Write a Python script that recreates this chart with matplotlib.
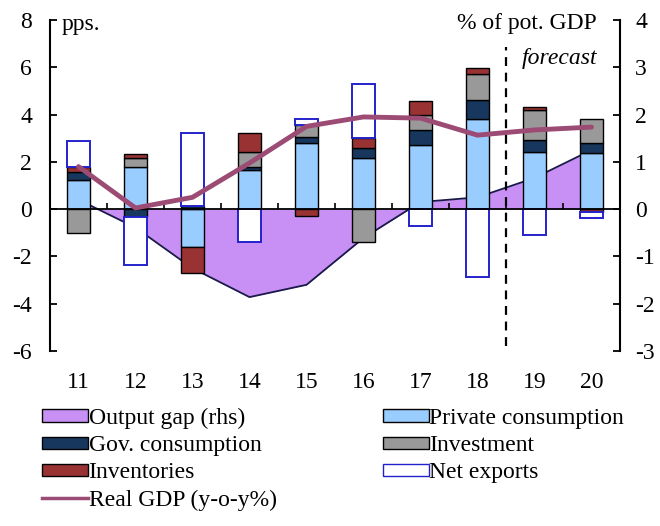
import numpy as np
import matplotlib
matplotlib.use("Agg")
import matplotlib.pyplot as plt
from matplotlib.patches import Patch
from matplotlib.lines import Line2D

plt.rcParams["font.family"] = ["Liberation Serif", "DejaVu Serif"]
plt.rcParams["axes.unicode_minus"] = False

# data (contributions in pps., output gap in % of potential GDP)
years = [11, 12, 13, 14, 15, 16, 17, 18, 19, 20]
year_labels = ["11", "12", "13", "14", "15", "16", "17", "18", "19", "20"]
private_cons = [1.25, 1.8, -1.6, 1.65, 2.8, 2.15, 2.7, 3.8, 2.43, 2.36]
gov_cons = [0.3, -0.35, 0.15, 0.12, 0.25, 0.45, 0.65, 0.82, 0.5, 0.42]
investment = [-1.0, 0.35, 0.0, 0.66, 0.5, -1.38, 0.63, 1.1, 1.25, 1.02]
inventories = [0.25, 0.2, -1.1, 0.77, -0.3, 0.4, 0.6, 0.24, 0.14, -0.1]
net_exports = [1.1, -2.0, 3.05, -1.38, 0.25, 2.3, -0.73, -2.87, -1.1, -0.27]
real_gdp = [1.8, 0.05, 0.5, 1.95, 3.5, 3.9, 3.85, 3.13, 3.35, 3.47]
output_gap = [0.2, -0.39, -1.25, -1.86, -1.6, -0.61, 0.15, 0.25, 0.66, 1.25]
forecast_start = 18.5

components = [
    ("Private consumption", private_cons, "#99CCFF", "black"),
    ("Gov. consumption", gov_cons, "#17375E", "black"),
    ("Investment", investment, "#999999", "black"),
    ("Inventories", inventories, "#993333", "black"),
    ("Net exports", net_exports, "white", "#2222CC"),
]
gap_color = "#C890F5"
gdp_color = "#9B4B74"

fs = 17
fig = plt.figure(figsize=(6.6, 5.26), dpi=100)
ax = fig.add_axes([50 / 660, 1 - 351 / 526, 570 / 660, 331 / 526])
ax2 = ax.twinx()
ax.set_zorder(ax2.get_zorder() + 1)
ax.patch.set_visible(False)

x = np.array(years, dtype=float)

# output gap area on the right axis, behind the bars
gap = np.array(output_gap)
ax2.fill_between(x, gap, 0, color=gap_color, linewidth=0)
ax2.plot(x, gap, color="#1A1A4A", lw=1.3)
ax2.set_ylim(-3, 4)

# stacked bars: positives go up, negatives go down
pos_base = np.zeros(len(x))
neg_base = np.zeros(len(x))
for name, vals, fc, ec in components:
    v = np.array(vals)
    base = np.where(v >= 0, pos_base, neg_base)
    lw = 1.4 if name == "Net exports" else 1.0
    ax.bar(x, v, 0.4, bottom=base, color=fc, edgecolor=ec, linewidth=lw, zorder=3)
    pos_base += np.where(v >= 0, v, 0)
    neg_base += np.where(v < 0, v, 0)

ax.plot(x, real_gdp, color=gdp_color, lw=3.5, zorder=5, solid_capstyle="round")
ax.plot([forecast_start, forecast_start], [-5.8, 6.85], color="black", lw=1.6,
        ls=(0, (4, 3)), zorder=4)

ax.set_xlim(10.5, 20.5)
ax.set_ylim(-6, 8)
ax.set_yticks(np.arange(-6, 9, 2))
ax2.set_yticks(np.arange(-3, 5, 1))

for a in (ax, ax2):
    a.spines["top"].set_visible(False)
ax.spines["right"].set_visible(False)
ax2.spines["left"].set_visible(False)
ax2.spines["bottom"].set_visible(False)
ax.spines["left"].set_linewidth(1.5)
ax2.spines["right"].set_linewidth(1.5)

# zero line with small ticks between years
ax.spines["bottom"].set_position(("data", 0))
ax.spines["bottom"].set_linewidth(1.3)
ax.spines["bottom"].set_zorder(4)
ax.set_xticks(np.arange(11.5, 20, 1))
ax.tick_params(axis="x", direction="in", length=4, width=1.2, labelbottom=False)

sec = ax.secondary_xaxis(0)
sec.set_xticks(years, year_labels)
sec.spines["bottom"].set_visible(False)
sec.tick_params(length=0, pad=15, labelsize=fs)

ax.tick_params(axis="y", direction="in", length=5, width=1.3, labelsize=fs, pad=13)
ax2.tick_params(axis="y", direction="in", length=5, width=1.3, labelsize=fs, pad=11)

ax.text(0.021, 0.985, "pps.", transform=ax.transAxes, ha="left", va="center", fontsize=fs)
ax.text(0.96, 0.99, "% of pot. GDP", transform=ax.transAxes, ha="right", va="center", fontsize=fs)
ax.text(0.96, 0.885, "forecast", transform=ax.transAxes, ha="right", va="center",
        fontsize=fs, style="italic")

handles = [
    Patch(facecolor=gap_color, edgecolor="black", label="Output gap (rhs)"),
    Patch(facecolor="#17375E", edgecolor="black", label="Gov. consumption"),
    Patch(facecolor="#993333", edgecolor="black", label="Inventories"),
    Line2D([], [], color=gdp_color, lw=2.5, label="Real GDP (y-o-y%)"),
    Patch(facecolor="#99CCFF", edgecolor="black", label="Private consumption"),
    Patch(facecolor="#999999", edgecolor="black", label="Investment"),
    Patch(facecolor="white", edgecolor="#2222CC", label="Net exports"),
]
fig.legend(handles=handles, ncol=2, loc="upper left", bbox_to_anchor=(42 / 660, 1 - 408 / 526),
           frameon=False, fontsize=fs, handlelength=1.95, handleheight=0.45, handletextpad=0.02,
           labelspacing=0.26, columnspacing=4.5, borderaxespad=0, borderpad=0)

fig.savefig("out.png", dpi=100)
